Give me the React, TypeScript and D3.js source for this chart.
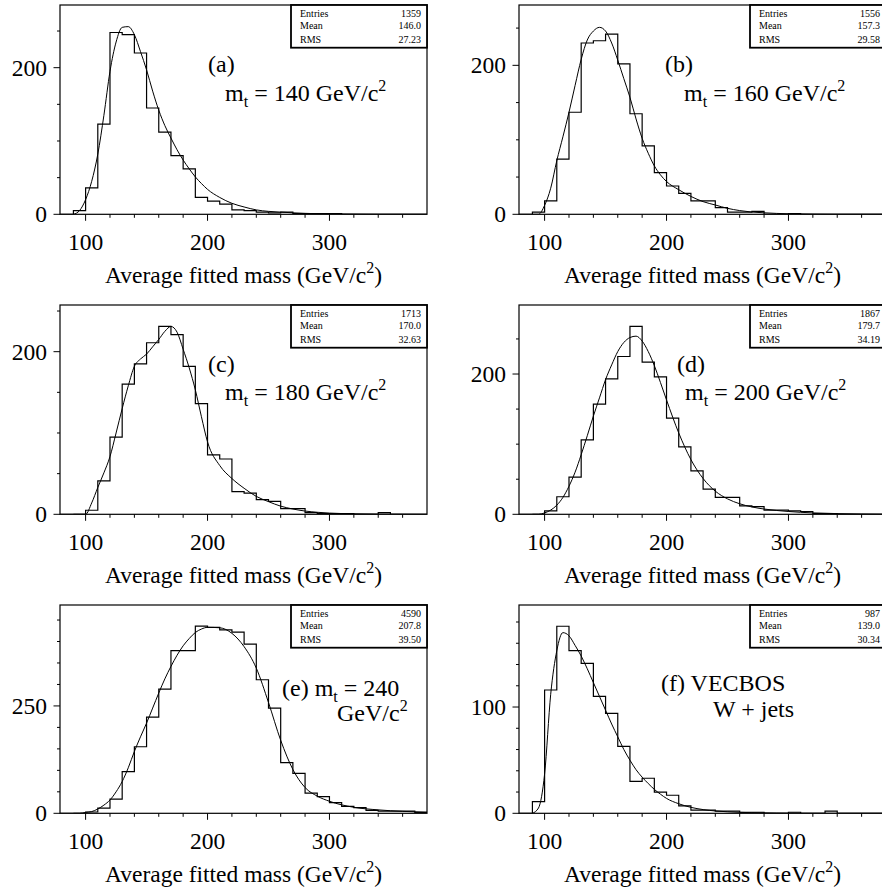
import React from "react";
import * as d3 from "d3";

// ---------- data ----------
const binStarts = [80, 90, 100, 110, 120, 130, 140, 150, 160, 170, 180, 190, 200, 210, 220, 230, 240, 250, 260, 270, 280, 290, 300, 310, 320, 330, 340, 350, 360, 370];
const binEnd = 380;

const countsA = [0, 5, 36, 123, 248, 245, 220, 145, 112, 80, 62, 23, 18, 14, 6, 5, 3, 2, 3, 1, 1, 1, 1, 0, 0, 0, 0, 0, 0, 0];
const countsB = [0, 3, 18, 74, 137, 230, 233, 242, 202, 135, 92, 56, 38, 28, 18, 18, 9, 3, 3, 4, 0, 0, 1, 0, 0, 0, 0, 0, 0, 0];
const countsC = [0, 0, 5, 41, 95, 160, 185, 211, 231, 221, 182, 136, 73, 68, 28, 26, 18, 16, 7, 7, 2, 1, 1, 1, 0, 0, 2, 0, 0, 0];
const countsD = [0, 0, 5, 25, 53, 106, 157, 193, 225, 268, 217, 196, 137, 96, 62, 36, 24, 24, 12, 11, 6, 6, 5, 4, 1, 1, 0, 0, 0, 0];
const countsE = [0, 0, 3, 12, 33, 97, 155, 224, 289, 379, 379, 436, 433, 427, 422, 394, 311, 245, 118, 93, 47, 39, 25, 16, 13, 7, 5, 5, 5, 2];
const countsF = [0, 11, 116, 176, 153, 141, 110, 94, 63, 30, 33, 20, 17, 7, 3, 3, 2, 2, 1, 1, 0, 0, 1, 0, 0, 2, 0, 0, 0, 0];

const fitX = [90, 95, 100, 105, 110, 115, 120, 125, 130, 135, 140, 145, 150, 155, 160, 165, 170, 175, 180, 185, 190, 195, 200, 210, 220, 230, 240, 250, 260, 270, 280, 290, 300, 320, 340, 360, 380];
const fitA = [0, 5, 20, 45, 82, 135, 195, 235, 255, 256, 245, 222, 197, 168, 142, 121, 104, 88, 74, 62, 51, 42, 34, 23, 15, 10, 6, 4, 3, 2, 1.3, 0.8, 0.5, 0.2, 0, 0, 0];
const fitB = [0, 0, 12, 35, 72, 104, 137, 173, 208, 234, 246, 251, 246, 230, 207, 182, 157, 128, 102, 82, 65, 53, 44, 33, 24, 17, 12.5, 8, 5, 3, 2, 1.2, 0.7, 0.2, 0, 0, 0];
const fitC = [0, 0, 0, 14, 33, 51, 71, 100, 130, 158, 182, 191, 197, 206, 215, 225, 231, 224, 203, 180, 153, 120, 89, 60, 44, 32, 22, 15.6, 10, 6.5, 4, 2.5, 1.5, 0.6, 0.2, 0.1, 0];
const fitD = [0, 0, 2, 6, 13, 24, 40, 60, 85, 112, 140, 166, 192, 213, 232, 245, 252, 254, 247, 232, 212, 188, 163, 116, 78, 51, 33, 22, 15, 10.5, 7.5, 5.5, 4, 2, 1, 0.4, 0.1];
const fitE = [0, 0, 2, 4, 10, 19, 31, 50, 74, 106, 144, 178, 210, 245, 280, 313, 342, 368, 390, 407, 421, 429, 433, 432, 419, 388, 338, 258, 170, 102, 60, 40, 28, 14, 8, 4.5, 2.5];
const fitF = [0, 5, 37, 112, 153, 170, 167, 158, 148, 136, 123, 110, 97, 84, 72, 60, 50, 41, 34, 28, 22.5, 18, 14, 9, 5.6, 3.5, 2.2, 1.4, 0.9, 0.6, 0.4, 0.2, 0.1, 0, 0, 0, 0];

const statEntries = ["1359", "1556", "1713", "1867", "4590", "987"];
const statMean = ["146.0", "157.3", "170.0", "179.7", "207.8", "139.0"];
const statRms = ["27.23", "29.58", "32.63", "34.19", "39.50", "30.34"];

const yMaxes = [285.5, 281, 257.4, 298.4, 485, 196];
const yTicks200 = [0, 50, 100, 150, 200, 250];
const yLabels200 = [0, 200];
const yTicksE = [0, 50, 100, 150, 200, 250, 300, 350, 400, 450];
const yLabelsE = [0, 250];
const yTicksF = [0, 20, 40, 60, 80, 100, 120, 140, 160, 180];
const yLabelsF = [0, 100];

const xTicks = [100, 120, 140, 160, 180, 200, 220, 240, 260, 280, 300, 320, 340, 360];
const xLabels = [100, 200, 300];
const xTitle = "Average fitted mass (GeV/c";

const allCounts = [countsA, countsB, countsC, countsD, countsE, countsF];
const allFits = [fitA, fitB, fitC, fitD, fitE, fitF];
const allYTicks = [yTicks200, yTicks200, yTicks200, yTicks200, yTicksE, yTicksF];
const allYLabels = [yLabels200, yLabels200, yLabels200, yLabels200, yLabelsE, yLabelsF];

// ---------- layout ----------
const FONT = "'Liberation Serif', 'Times New Roman', Times, serif";
const colLeft = [60, 519];
const plotW = 367;
const rowBottom = [214.3, 514.3, 813.3];
const rowTop = [5, 305, 605];

function Annotation({ i }: { i: number }) {
  const fs = 24;
  const sub = 16;
  const mt = (mass: string) => (
    <>
      <tspan>m</tspan>
      <tspan fontSize={sub} dy={6}>t</tspan>
      <tspan dy={-6}>{" = " + mass + " GeV/c"}</tspan>
      <tspan fontSize={sub} dy={-10}>2</tspan>
    </>
  );
  const common = { fontFamily: FONT, fontSize: fs, fill: "#000" } as any;
  if (i === 0) return (<g><text x={148} y={67} {...common}>(a)</text><text x={165} y={96} {...common}>{mt("140")}</text></g>);
  if (i === 1) return (<g><text x={146} y={67} {...common}>(b)</text><text x={165} y={96} {...common}>{mt("160")}</text></g>);
  if (i === 2) return (<g><text x={148} y={67} {...common}>(c)</text><text x={165} y={95} {...common}>{mt("180")}</text></g>);
  if (i === 3) return (<g><text x={158} y={67} {...common}>(d)</text><text x={166} y={95} {...common}>{mt("200")}</text></g>);
  if (i === 4) return (
    <g>
      <text x={222} y={91} {...common}>
        <tspan>(e) m</tspan>
        <tspan fontSize={sub} dy={6}>t</tspan>
        <tspan dy={-6}>{" = 240"}</tspan>
      </text>
      <text x={277} y={116} {...common}>
        <tspan>GeV/c</tspan>
        <tspan fontSize={sub} dy={-10}>2</tspan>
      </text>
    </g>
  );
  return (
    <g>
      <text x={142} y={86} {...common}>(f) VECBOS</text>
      <text x={194} y={112} {...common}>W + jets</text>
    </g>
  );
}

function Panel({ i }: { i: number }) {
  const col = i % 2;
  const row = Math.floor(i / 2);
  const x0 = colLeft[col];
  const x1 = x0 + plotW;
  const yb = rowBottom[row];
  const yt = rowTop[row];
  const x = d3.scaleLinear().domain([79, 380]).range([x0, x1]);
  const y = d3.scaleLinear().domain([0, yMaxes[i]]).range([yb, yt]);
  const counts = allCounts[i];
  const fit = allFits[i];

  const histPts: [number, number][] = binStarts.map((b, k) => [b, counts[k]]);
  histPts.push([binEnd, counts[counts.length - 1]]);
  const histLine = d3.line<[number, number]>().x((d) => x(d[0])).y((d) => y(d[1])).curve(d3.curveStepAfter);
  const histPath = histLine([[79, 0], ...histPts] as [number, number][]) || "";

  const fitPts: [number, number][] = fitX.map((v, k) => [v, fit[k]]);
  const fitLine = d3.line<[number, number]>().x((d) => x(d[0])).y((d) => y(d[1])).curve(d3.curveMonotoneX);
  const fitPath = fitLine(fitPts) || "";

  const clipId = "clip" + i;
  const yTicks = allYTicks[i];
  const yLabels = allYLabels[i];

  const boxX = x1 - 136;
  const boxY = yt;
  return (
    <g>
      <defs>
        <clipPath id={clipId}>
          <rect x={x0} y={yt} width={plotW} height={yb - yt} />
        </clipPath>
      </defs>
      <g clipPath={`url(#${clipId})`}>
        <path d={histPath} fill="none" stroke="#000" strokeWidth={1.2} />
        <path d={fitPath} fill="none" stroke="#000" strokeWidth={1} />
      </g>
      <rect x={x0} y={yt} width={plotW} height={yb - yt} fill="none" stroke="#000" strokeWidth={1.2} />
      {/* x ticks */}
      {xTicks.map((t) => {
        const major = xLabels.includes(t);
        return <line key={"xt" + t} x1={x(t)} x2={x(t)} y1={yb} y2={yb + (major ? 6.5 : 3.5)} stroke="#000" strokeWidth={1} />;
      })}
      {xLabels.map((t) => (
        <text key={"xl" + t} x={x(t)} y={yb + 35.7} textAnchor="middle" fontFamily={FONT} fontSize={23.5}>{t}</text>
      ))}
      <text x={(x0 + x1) / 2} y={yb + 69} textAnchor="middle" fontFamily={FONT} fontSize={23.5}>
        <tspan>{xTitle}</tspan>
        <tspan fontSize={16} dy={-10}>2</tspan>
        <tspan dy={10}>)</tspan>
      </text>
      {/* y ticks */}
      {yTicks.map((t) => {
        const major = yLabels.includes(t);
        return <line key={"yt" + t} x1={x0} x2={x0 - (major ? 6.5 : 3)} y1={y(t)} y2={y(t)} stroke="#000" strokeWidth={1} />;
      })}
      {yLabels.map((t) => (
        <text key={"yl" + t} x={x0 - 13} y={y(t)} dy="0.34em" textAnchor="end" fontFamily={FONT} fontSize={23.5}>{t}</text>
      ))}
      {/* stat box */}
      <rect x={boxX} y={boxY} width={136} height={42.7} fill="#fff" stroke="#000" strokeWidth={1.8} />
      <g fontFamily={FONT} fontSize={10}>
        <text x={boxX + 9} y={boxY + 12.3}>Entries</text>
        <text x={x1 - 6} y={boxY + 12.3} textAnchor="end">{statEntries[i]}</text>
        <text x={boxX + 9} y={boxY + 24.3}>Mean</text>
        <text x={x1 - 6} y={boxY + 24.3} textAnchor="end">{statMean[i]}</text>
        <text x={boxX + 9} y={boxY + 38.3}>RMS</text>
        <text x={x1 - 6} y={boxY + 38.3} textAnchor="end">{statRms[i]}</text>
      </g>
      <g transform={`translate(${x0},${yt})`}>
        <Annotation i={i} />
      </g>
    </g>
  );
}

export default function App() {
  return (
    <svg width={882} height={894} style={{ position: "absolute", left: 0, top: 0, background: "#fff" }}>
      <rect x={0} y={0} width={882} height={894} fill="#fff" />
      {[0, 1, 2, 3, 4, 5].map((i) => (
        <Panel key={i} i={i} />
      ))}
    </svg>
  );
}
